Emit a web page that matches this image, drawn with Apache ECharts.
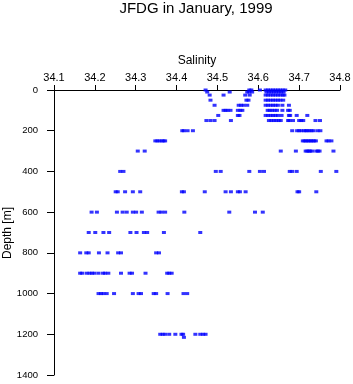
<!DOCTYPE html>
<html><head><meta charset="utf-8">
<script src="https://cdn.jsdelivr.net/npm/echarts@6/dist/echarts.min.js"></script>
<style>html,body{margin:0;padding:0;background:#fff}#c{width:353px;height:384px}</style>
</head><body><div id="c"></div>
<script>
var title = "JFDG in January, 1999";
var xName = "Salinity";
var yName = "Depth [m]";
var xTicks = [34.1, 34.2, 34.3, 34.4, 34.5, 34.6, 34.7, 34.8];
var yTicks = [0, 200, 400, 600, 800, 1000, 1200, 1400];
var depths = [0, 10, 25, 50, 75, 100, 125, 150, 200, 250, 300, 400, 500, 600, 700, 800, 900, 1000, 1200];
var sal0 = [34.471, 34.578, 34.583, 34.604, 34.618, 34.624, 34.630, 34.636, 34.642, 34.648, 34.654, 34.660, 34.666];
var sal10 = [34.475, 34.530, 34.573, 34.578, 34.585, 34.620, 34.626, 34.632, 34.638, 34.644, 34.650, 34.656, 34.662];
var sal25 = [34.481, 34.515, 34.568, 34.579, 34.618, 34.624, 34.630, 34.636, 34.642, 34.648, 34.654, 34.660, 34.664];
var sal50 = [34.483, 34.571, 34.576, 34.618, 34.624, 34.630, 34.636, 34.642, 34.648, 34.654, 34.661];
var sal75 = [34.493, 34.552, 34.558, 34.564, 34.573, 34.618, 34.624, 34.630, 34.636, 34.642, 34.648, 34.659, 34.675];
var sal100 = [34.515, 34.520, 34.525, 34.532, 34.550, 34.556, 34.561, 34.623, 34.628, 34.634, 34.640, 34.646, 34.659, 34.673, 34.677];
var sal125 = [34.502, 34.550, 34.554, 34.618, 34.624, 34.630, 34.636, 34.642, 34.648, 34.657, 34.675, 34.678, 34.694, 34.720];
var sal150 = [34.473, 34.483, 34.493, 34.533, 34.626, 34.632, 34.638, 34.644, 34.650, 34.655, 34.673, 34.676, 34.685, 34.700, 34.705, 34.710, 34.740, 34.751];
var sal200 = [34.414, 34.418, 34.427, 34.440, 34.683, 34.695, 34.700, 34.705, 34.712, 34.716, 34.720, 34.725, 34.730, 34.735, 34.745, 34.752];
var sal250 = [34.348, 34.353, 34.358, 34.364, 34.368, 34.372, 34.709, 34.713, 34.717, 34.721, 34.725, 34.729, 34.733, 34.737, 34.741, 34.767, 34.772, 34.779];
var sal300 = [34.305, 34.322, 34.655, 34.692, 34.716, 34.720, 34.724, 34.727, 34.732, 34.742, 34.746, 34.750, 34.784];
var sal400 = [34.262, 34.270, 34.496, 34.508, 34.578, 34.604, 34.614, 34.677, 34.683, 34.694, 34.753, 34.791];
var sal500 = [34.251, 34.256, 34.274, 34.293, 34.311, 34.413, 34.418, 34.469, 34.520, 34.533, 34.550, 34.555, 34.569, 34.696, 34.700, 34.742];
var sal600 = [34.192, 34.205, 34.254, 34.268, 34.278, 34.293, 34.301, 34.315, 34.356, 34.363, 34.372, 34.419, 34.529, 34.592, 34.611];
var sal700 = [34.185, 34.201, 34.221, 34.235, 34.287, 34.302, 34.320, 34.328, 34.369, 34.458];
var sal800 = [34.164, 34.179, 34.185, 34.210, 34.231, 34.257, 34.264, 34.350, 34.357];
var sal900 = [34.164, 34.169, 34.180, 34.187, 34.193, 34.199, 34.209, 34.220, 34.225, 34.233, 34.264, 34.285, 34.291, 34.324, 34.377, 34.382, 34.388];
var sal1000 = [34.209, 34.215, 34.221, 34.229, 34.247, 34.293, 34.307, 34.313, 34.344, 34.350, 34.378, 34.417, 34.426];
var sal1200 = [34.360, 34.366, 34.372, 34.382, 34.397, 34.412, 34.416, 34.446, 34.458, 34.465, 34.471];
var sal1215 = [34.418];

var rows = [sal0, sal10, sal25, sal50, sal75, sal100, sal125, sal150, sal200, sal250, sal300, sal400, sal500, sal600, sal700, sal800, sal900, sal1000, sal1200];
var pts = [];
rows.forEach(function (r, i) { r.forEach(function (s) { pts.push([s, depths[i]]); }); });
sal1215.forEach(function (s) { pts.push([s, 1215]); });

var font = "Liberation Sans";
var chart = echarts.init(document.getElementById('c'), null, {renderer: 'canvas'});
chart.setOption({
  animation: false,
  graphic: [
    {type: 'text', x: 196, y: 9, z: 100,
      style: {text: title, font: '15px "Liberation Sans"', fill: '#000', textAlign: 'center', textVerticalAlign: 'middle'}},
    {type: 'text', x: 8, y: 233, rotation: Math.PI / 2, z: 100,
      style: {text: yName, font: '12px "Liberation Sans"', fill: '#000', textAlign: 'center', textVerticalAlign: 'middle'}}
  ],
  grid: {left: 54, right: 13, top: 90, bottom: 9, containLabel: false, outerBoundsMode: 'none'},
  xAxis: {type: 'value', position: 'top', min: 34.1, max: 34.8, interval: 0.1,
    name: xName, nameLocation: 'middle', nameGap: 23,
    nameTextStyle: {fontFamily: font, fontSize: 12, color: '#000'},
    axisLine: {show: true, onZero: false, lineStyle: {color: '#000', width: 1}},
    axisTick: {show: true, length: 5, lineStyle: {color: '#000'}},
    axisLabel: {fontFamily: font, fontSize: 11, color: '#000', margin: 7,
      formatter: function (v) { return v.toFixed(1); }},
    splitLine: {show: false}},
  yAxis: {type: 'value', inverse: true, min: 0, max: 1400, interval: 200,
    axisLine: {show: true, onZero: false, lineStyle: {color: '#000', width: 1}},
    axisTick: {show: true, length: 7, lineStyle: {color: '#000'}},
    axisLabel: {fontFamily: font, fontSize: 9.5, color: '#000', margin: 16,
      formatter: function (v) { return String(v); }},
    splitLine: {show: false}},
  series: [{type: 'scatter', data: pts, symbol: 'rect', symbolSize: [4, 3],
    itemStyle: {color: '#0000ff'}}]
});
</script></body></html>
